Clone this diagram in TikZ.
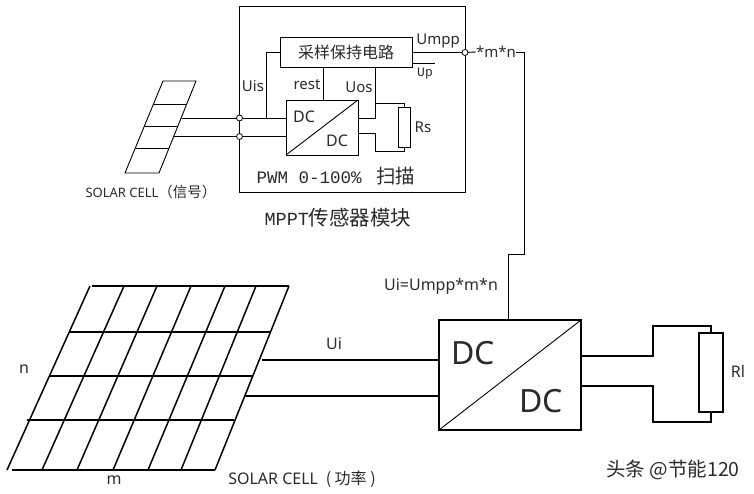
\documentclass[tikz,border=0pt]{standalone}
\usepackage{fontspec}
\setmainfont{Noto Sans}
\newfontfamily\cjk{Noto Sans CJK SC}
\newfontfamily\monofont{Liberation Mono}
\newcommand{\fs}[1]{\fontsize{#1}{#1}\selectfont}
\definecolor{inktext}{HTML}{2A2A2A}
\tikzset{
  wire/.style={line width=.9pt},
  thickwire/.style={line width=1.5pt},
  box/.style={draw,fill=white,inner sep=0pt,outer sep=0pt,line width=.9pt},
  bigbox/.style={box,line width=2pt},
  terminal/.style={draw,circle,fill=white,inner sep=0pt,outer sep=0pt,minimum size=6pt,line width=.8pt},
  lab/.style={inner sep=0pt,text=inktext,font=\fs{15}},
  biglab/.style={inner sep=0pt,text=inktext,font=\fs{16}},
}
\begin{document}
\begin{tikzpicture}[x=1pt,y=-1pt]
  \useasboundingbox (0,0) rectangle (754,494);

  % --- MPPT module frame ---
  \node[box,fill=none,minimum width=225.5pt,minimum height=186pt] (module) at (352.25,99) {};

  % --- small panel (signal cell) ---
  \draw[wire] (163,81) -- (196,81) -- (159,173) -- (125,173) -- cycle;
  \foreach \y/\a/\b in {104/153.8/186.8,126/144.9/178,148/135.9/169} {
    \draw[wire] (\a,\y) -- (\b,\y);
  }
  \coordinate (cellplus) at (182,118);
  \coordinate (cellminus) at (174,136.5);

  % --- module blocks ---
  \node[box,minimum width=132pt,minimum height=30pt] (sampler) at (346,52) {};
  \node[lab,font=\cjk\fs{16}] (samplerlab) at (346,52.5) {采样保持电路};
  \node[box,minimum width=72pt,minimum height=55pt] (dcsmall) at (322,127.5) {};
  \draw[wire] (dcsmall.south west) -- (dcsmall.north east);
  \node[lab,font=\fs{16}] (dcsmallin) at (304,117) {DC};
  \node[lab,font=\fs{16}] (dcsmallout) at (337,141) {DC};
  \node[box,minimum width=12pt,minimum height=40pt] (rs) at (404,127) {};

  % --- terminals on the frame ---
  \node[terminal] (tplus) at (239.5,118) {};
  \node[terminal] (tminus) at (239.5,136.5) {};
  \node[terminal] (tout) at (465,52.5) {};

  % --- module wiring ---
  \draw[wire] (cellplus) -- (tplus);
  \draw[wire] (tplus) -- (tplus -| dcsmall.west);
  \draw[wire] (cellminus) -- (tminus);
  \draw[wire] (tminus) -- (tminus -| dcsmall.west);
  \coordinate (uisjoin) at (266,118);
  \coordinate (uosjoin) at (375,118);
  \coordinate (restjoin) at (323,67);
  \coordinate (rstop) at (375,103.5);
  \coordinate (rsbot) at (375,151);
  \coordinate (dcoutlow) at (375,133.5);
  \draw[wire] (uisjoin) |- (sampler.west);
  \draw[wire] (restjoin) -- (restjoin |- dcsmall.north);
  \draw[wire] (uosjoin |- sampler.south) -- (uosjoin) -- (uosjoin -| dcsmall.east);
  \draw[wire] (uosjoin) -- (rstop) -| (rs.north);
  \draw[wire] (dcoutlow -| dcsmall.east) -- (dcoutlow) -- (rsbot) -| (rs.south);
  \draw[wire] (tout -| sampler.east) -- (tout);
  \coordinate (upend) at (435,63);
  \draw[wire] (upend -| sampler.east) -- (upend);

  % --- module labels ---
  \node[lab] (umpp) at (438,41) {Umpp};
  \node[lab,font=\monofont\fs{13}] (up) at (425,74) {Up};
  \node[lab] (uis) at (253,86) {Uis};
  \node[lab] (rest) at (307,85) {rest};
  \node[lab] (uos) at (359,87) {Uos};
  \node[lab] (rslab) at (423,127) {Rs};
  \node[lab,font=\monofont\fs{17.5}] (pwm) at (336,176) {PWM 0-100\% {\cjk\fs{19.5} 扫描}};
  \node[lab,font=\monofont\fs{18.5}] (mppt) at (338,218) {MPPT{\cjk\fs{20.5}传感器模块}};
  \node[lab,font=\fs{13}] (smallcell) at (151,192) {SOLAR CELL{\cjk\fs{14.5}（信号）}};

  % --- big converter and load ---
  \node[bigbox,minimum width=142pt,minimum height=110pt] (dcbig) at (510,375) {};
  \draw[wire] (dcbig.south west) -- (dcbig.north east);
  \node[lab,font=\fs{32}] (dcbigin) at (473,353) {DC};
  \node[lab,font=\fs{32}] (dcbigout) at (541,401) {DC};
  \node[box,line width=1.5pt,minimum width=24pt,minimum height=79pt] (rl) at (711,372.5) {};
  \node[biglab] (rllab) at (738,371) {Rl};

  % --- *m*n feedback ---
  \node[lab] (gain) at (496,52) {*m*n};
  \coordinate (fbtop) at (524.5,52);
  \coordinate (fbbend) at (524.5,254.5);
  \coordinate (fbdown) at (508,254.5);
  \draw[wire] (tout) -- (gain.west);
  \draw[wire] (gain.east) -- (fbtop) -- (fbbend) -- (fbdown) -- (fbdown |- dcbig.north);
  \node[biglab] (uiformula) at (441,286) {Ui=Umpp*m*n};

  % --- big panel (power array) ---
  \foreach \y/\a/\b in {286/92/289,332/69/271,376/49/252,420/27/234,470/12/215} {
    \draw[thickwire] (\a,\y) -- (\b,\y);
  }
  \foreach \t/\b in {90/7,124/42,157/77,191/113,225/148,256/181,289/215} {
    \draw[thickwire] (\t,286) -- (\b,470);
  }
  \coordinate (arrayplus) at (262,360);
  \coordinate (arrayminus) at (245,396);

  % --- big wiring ---
  \draw[thickwire] (arrayplus) -- (arrayplus -| dcbig.west);
  \draw[thickwire] (arrayminus) -- (arrayminus -| dcbig.west);
  \coordinate (outplus) at (653,356);
  \coordinate (outminus) at (653,386);
  \coordinate (rltop) at (653,326);
  \coordinate (rlbot) at (653,422);
  \draw[thickwire] (outplus -| dcbig.east) -- (outplus) -- (rltop) -| (rl.north);
  \draw[thickwire] (outminus -| dcbig.east) -- (outminus) -- (rlbot) -| (rl.south);

  % --- array labels ---
  \node[biglab] (uilab) at (334,344) {Ui};
  \node[biglab] (nlab) at (24,369) {n};
  \node[biglab] (mlab) at (114,480) {m};
  \node[biglab] (bigcell) at (302,479) {SOLAR CELL {\cjk\fs{16} ( 功率 )}};

  % --- watermark ---
  \node[lab,font=\cjk\fs{19.5}] (mark) at (673,470) {头条 @节能120};
\end{tikzpicture}
\end{document}
